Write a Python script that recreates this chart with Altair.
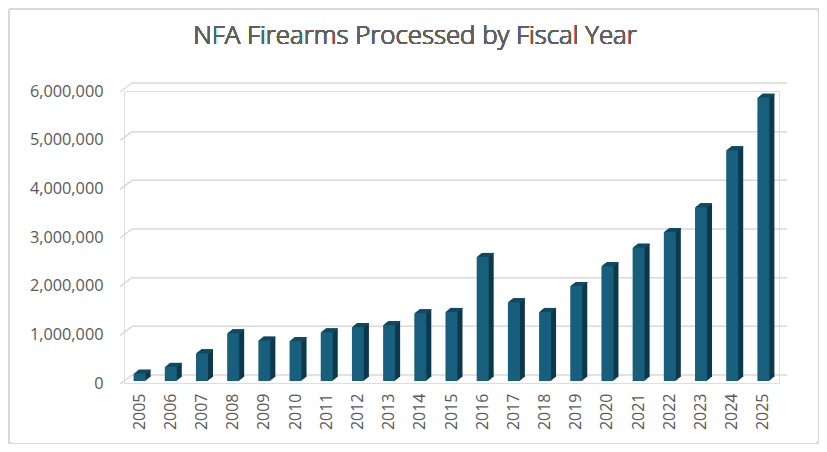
import altair as alt
import pandas as pd

years = [str(y) for y in range(2005, 2026)]
processed = [150000, 290000, 570000, 980000, 830000, 820000, 1000000, 1110000,
             1150000, 1390000, 1420000, 2550000, 1620000, 1420000, 1950000,
             2360000, 2740000, 3060000, 3570000, 4740000, 5820000]
tick_values = [0, 1000000, 2000000, 3000000, 4000000, 5000000, 6000000]
title_text = "NFA Firearms Processed by Fiscal Year"

FONT = "Open Sans"
GRAY = "#595959"
GRID = "#d9d9d9"
FRONT = "#185f7e"
SIDE = "#0c394d"
TOP = "#124a63"

W, H = 655, 292
bars_df = pd.DataFrame({"year": years, "v": processed})
ticks_df = pd.DataFrame({"t": tick_values})

yscale = alt.Scale(domain=[0, 6000000], nice=False, zero=True)
xscale = alt.Scale(paddingInner=0, paddingOuter=0)

x_axis = alt.Axis(labelAngle=270, labelAlign="right", labelBaseline="middle",
                  domain=False, ticks=False, labelPadding=10, grid=False,
                  labelFont=FONT, labelFontSize=16, labelColor=GRAY)
y_axis = alt.Axis(values=tick_values, labelExpr="format(datum.value, ',')",
                  grid=False, domain=False, ticks=False,
                  labelPadding=21, labelFont=FONT, labelFontSize=16.3, labelColor=GRAY)

X = alt.X("year:N", scale=xscale, title=None, axis=x_axis)
Y = alt.Y("v:Q", scale=yscale, title=None, axis=y_axis)
YT = alt.Y("t:Q", scale=yscale, title=None, axis=y_axis)

# gridlines (back wall) and their oblique front ends
grid_back = alt.Chart(ticks_df).mark_rule(color=GRID, strokeWidth=1.5, yOffset=-8).encode(
    x=alt.value(8), x2=alt.value(663), y=YT,
)
grid_side = alt.Chart(ticks_df).mark_rule(color=GRID, strokeWidth=1.5, yOffset=1, y2Offset=-8).encode(
    x=alt.value(-4), x2=alt.value(8), y=YT, y2="t:Q",
)

layers = [grid_back, grid_side]

# side faces (extruded copies)
for k in [5, 4, 3, 2, 1]:
    off = -2 - 0.8 * k
    layers.append(
        alt.Chart(bars_df).mark_bar(color=SIDE, width=12, xOffset=k, yOffset=off, y2Offset=off).encode(
            x=X, y=Y,
        )
    )
# top faces
for k in [5, 4, 3, 2, 1]:
    off = -2 - 0.8 * k
    layers.append(
        alt.Chart(bars_df).mark_bar(color=TOP, width=12, xOffset=k, yOffset=off, y2Offset=off + 1.2).encode(
            x=X, y=Y, y2="v:Q",
        )
    )

front = alt.Chart(bars_df).mark_bar(color=FRONT, width=12, yOffset=-2, y2Offset=-2).encode(
    x=X, y=Y,
    tooltip=["year:N", alt.Tooltip("v:Q", format=",")],
)
layers.append(front)

title = alt.Chart(bars_df).mark_text(
    text=title_text, font=FONT, fontSize=25.8, fontWeight=300, color="#606060",
    align="center", baseline="alphabetic"
).encode(x=alt.value(291), y=alt.value(-47))

border = alt.Chart(bars_df).mark_rect(fill=None, stroke=GRID, strokeWidth=1.5, cornerRadius=3).encode(
    x=alt.value(-115.25), x2=alt.value(694.75), y=alt.value(-82.25), y2=alt.value(352.75)
)

layers = [border] + layers + [title]

chart = alt.layer(*layers).properties(
    width=W, height=H,
    padding={"left": 116, "top": 83, "right": 40, "bottom": 61},
    autosize=alt.AutoSizeParams(type="none"),
).configure_view(stroke=None).configure(background="white")

chart.save("out.html", embed_options={"renderer": "svg", "actions": False})
